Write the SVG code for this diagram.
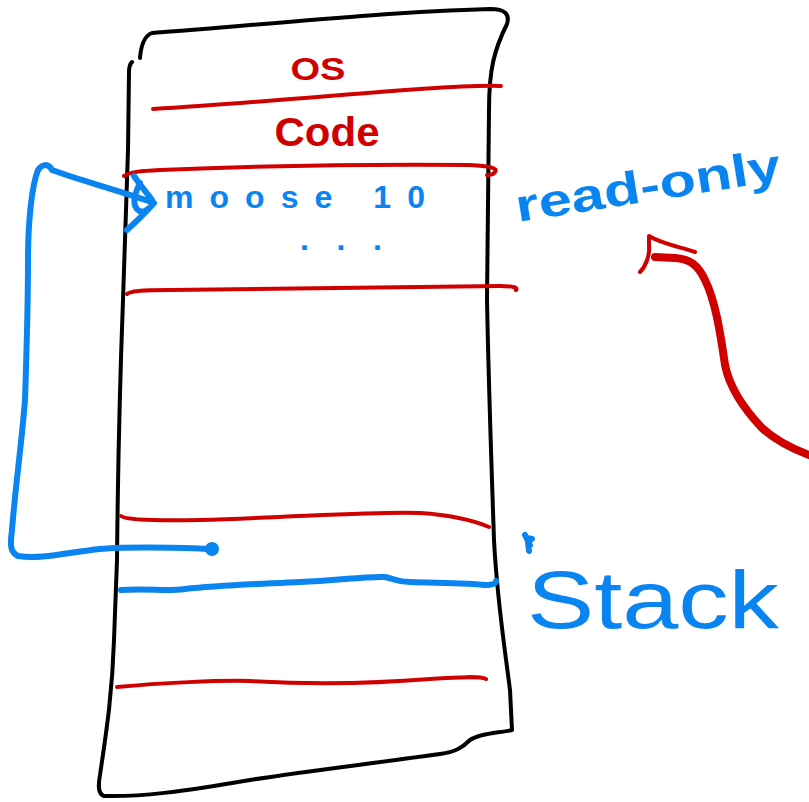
<svg xmlns="http://www.w3.org/2000/svg" width="809" height="802" viewBox="0 0 809 802">
  <style>
    .ink { fill: none; stroke-linecap: round; stroke-linejoin: round; }
    .black { stroke: #000000; stroke-width: 4; }
    .red { stroke: #d10000; stroke-width: 4; }
    .redthick { stroke: #d10000; stroke-width: 8; }
    .blue { stroke: #0a84f0; stroke-width: 6; }
    .hand { font-family: "Liberation Sans", "DejaVu Sans", sans-serif; font-weight: bold; }
    .hand.light { font-weight: normal; }
    .tred { fill: #d10000; }
    .tblue { fill: #0a84f0; }
  </style>
  <rect width="809" height="802" fill="#ffffff"/>

  <!-- memory block outline -->
  <g id="memory">
    <path class="ink black" stroke-width="5" d="M140,58 C141,45 144,36 152,33 C260,25 380,12 490,9 C505,9 510,14 507,24 C494,50 489,70 489,110 L487,300 C489,400 492,480 494,540 C497,600 505,650 510,690 L512,730 C500,733 480,733 470,740 C462,748 455,752 440,754 C360,765 300,772 250,780 C180,792 140,797 104,796 C98,794 98,786 100,775 C105,740 112,700 114,640"/>
    <path class="ink black" stroke-width="3" d="M114,640 L117,560 C118,450 120,380 123,300 L128,150 L129,72 C129,66 131,63 132,62"/>
  </g>

  <!-- segment dividers -->
  <g id="dividers">
    <path class="ink red" d="M153,109 C250,103 350,94 420,89 C450,87 480,85 501,86"/>
    <path class="ink red" d="M124,176 C130,172 140,171 160,170 C260,166 380,164 470,165 C490,166 498,168 495,172 C494,174 490,175 487,175"/>
    <path class="ink red" d="M127,294 C130,291 140,290 170,290 C300,289 420,286 500,286 C515,286 518,288 516,290"/>
    <path class="ink red" d="M121,516 C125,519 140,521 200,520 C300,517 380,511 420,513 C450,515 475,521 489,527"/>
    <path class="ink red" d="M117,687 C160,683 220,680 250,681 C320,685 380,683 430,679 C460,677 480,676 486,679"/>
    <path class="ink blue" d="M121,590 C150,588 165,592 185,589 C220,585 260,584 300,582 C340,580 370,576 385,577 C395,579 398,582 410,582 C440,583 470,583 485,585 C495,585 496,583 496,581"/>
  </g>

  <!-- segment labels -->
  <g id="label-os">
    <text class="hand tred" x="318" y="80" font-size="32" text-anchor="middle" textLength="55" lengthAdjust="spacingAndGlyphs">OS</text>
  </g>
  <g id="label-code">
    <text class="hand tred" x="327" y="146" font-size="40" text-anchor="middle" textLength="105" lengthAdjust="spacingAndGlyphs">Code</text>
  </g>
  <g id="label-moose">
    <text class="hand tblue" x="165" y="208" font-size="32" textLength="260" lengthAdjust="spacing">moose 10</text>
  </g>
  <g id="label-ellipsis">
    <text class="hand tblue" x="300" y="250" font-size="32" textLength="82" lengthAdjust="spacing">...</text>
  </g>
  <g id="label-readonly">
    <text class="hand tblue" x="518" y="222" font-size="46" transform="rotate(-9 518 222)" textLength="268" lengthAdjust="spacingAndGlyphs">read-only</text>
  </g>
  <g id="label-stack">
    <text class="hand light tblue" x="527" y="628" font-size="82" textLength="252" lengthAdjust="spacingAndGlyphs">Stack</text>
    <path class="ink blue" stroke-width="4" d="M525,535 L530,545 M527,538 L532,539 M528,542 L529,551"/>
  </g>

  <!-- connectors -->
  <g id="connectors">
    <!-- pointer from the stack slot back up to moose 10 -->
    <path class="ink blue" d="M212,549 C180,548 140,546 100,549 C70,552 40,560 18,556 C10,552 10,545 12,530 C15,490 22,440 25,400 C27,340 28,300 28,260 C28,220 32,185 38,170 C42,164 48,163 52,170 C70,177 110,188 152,202"/>
    <circle cx="212" cy="549" r="7" fill="#0a84f0"/>
    <path class="ink blue" d="M134,176 C140,185 146,192 152,200 M127,230 C138,220 146,212 154,203 M140,183 C134,195 132,205 138,210 C142,214 148,210 152,205"/>
    <!-- read-only pointer -->
    <path class="ink redthick" d="M809,455 C790,448 775,440 762,428 C745,410 730,390 725,365 C720,330 715,300 705,280 C698,265 690,259 675,258 L655,257"/>
    <path class="ink red" stroke-width="7" d="M640,272 C646,266 650,255 649,245 L649,236 C660,243 680,247 695,252"/>
  </g>
</svg>
